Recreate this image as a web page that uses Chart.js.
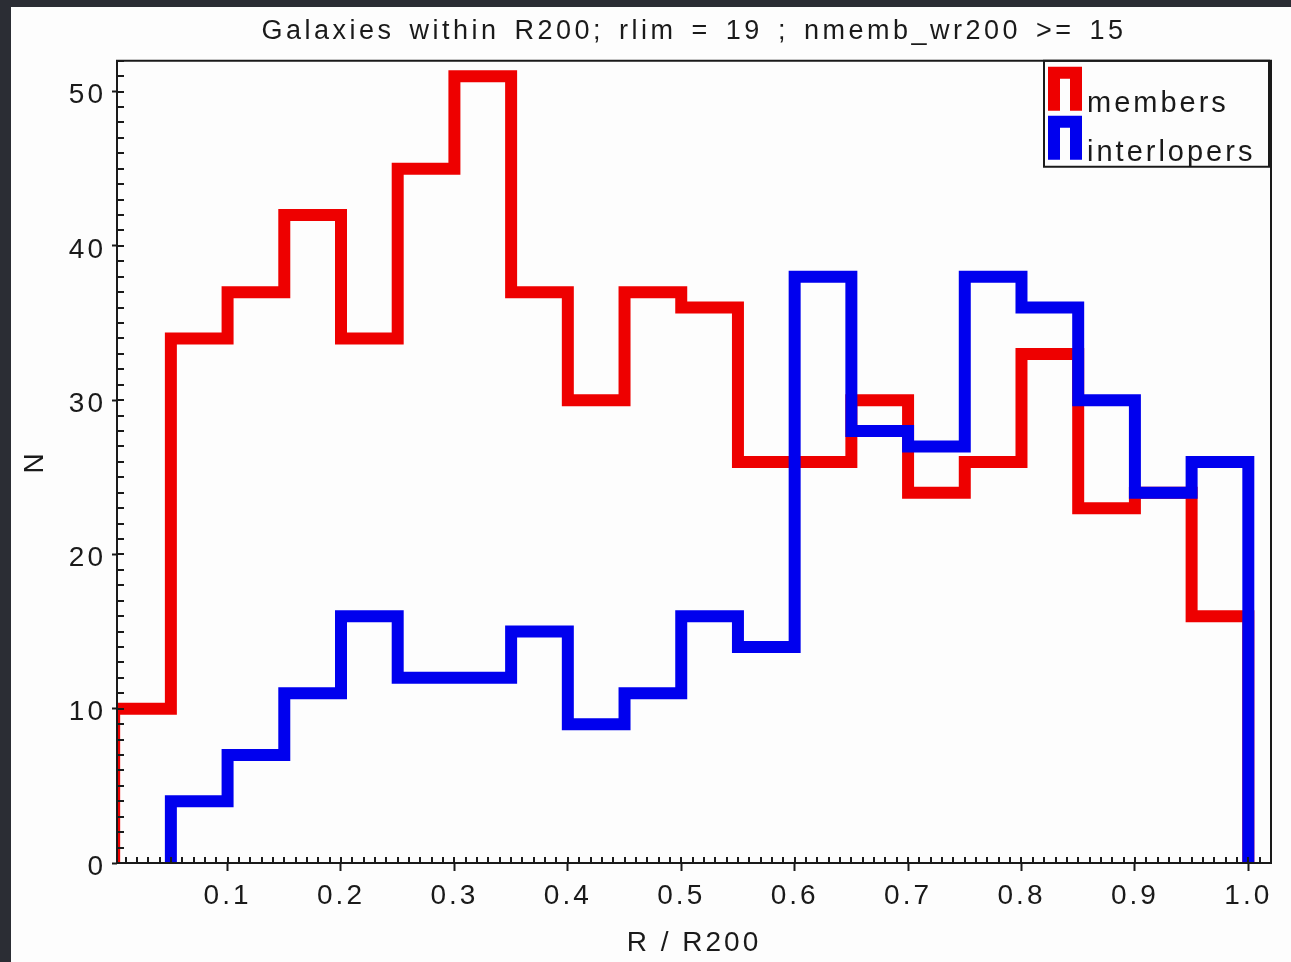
<!DOCTYPE html>
<html>
<head>
<meta charset="utf-8">
<title>Galaxies within R200</title>
<script src="https://cdn.jsdelivr.net/npm/chart.js@4.4.1/dist/chart.umd.min.js"></script>
<style>
  html, body { margin: 0; padding: 0; background: #2b2d34; }
  body { width: 1291px; height: 962px; overflow: hidden; position: relative; }
  #wrap { position: absolute; left: 11px; top: 7px; width: 1280px; height: 955px; background: #fdfdfd; }
  canvas { display: block; }
</style>
</head>
<body>
<div id="wrap"><canvas id="histChart" width="1280" height="955"></canvas></div>
<script>
// histogram bins in R / R200, left edges, width 0.05
const binWidth = 0.05;
const binEdges = [0.00, 0.05, 0.10, 0.15, 0.20, 0.25, 0.30, 0.35, 0.40, 0.45,
                  0.50, 0.55, 0.60, 0.65, 0.70, 0.75, 0.80, 0.85, 0.90, 0.95];
const members     = [10, 34, 37, 42, 34, 45, 51, 37, 30, 37, 36, 26, 26, 30, 24, 26, 33, 23, 24, 16];
const interlopers = [ 0,  4,  7, 11, 16, 12, 12, 15,  9, 11, 16, 14, 38, 28, 27, 38, 36, 30, 24, 26];
const xTicks = [0.1, 0.2, 0.3, 0.4, 0.5, 0.6, 0.7, 0.8, 0.9, 1.0];
const yTicks = [0, 10, 20, 30, 40, 50];

const FONT = "'Liberation Sans', Arial, Helvetica, sans-serif";
const INK = '#1a1a1a';
Chart.defaults.font.family = FONT;
Chart.defaults.font.size = 28;
Chart.defaults.color = INK;

// outline of a histogram as corner points, starting at the first filled bin
function stepOutline(edges, counts) {
  const first = counts.findIndex(c => c > 0);
  const pts = [{ x: edges[first], y: 0 }];
  for (let i = first; i < counts.length; i++) {
    pts.push({ x: edges[i], y: counts[i] });
    pts.push({ x: edges[i] + binWidth, y: counts[i] });
  }
  pts.push({ x: edges[edges.length - 1] + binWidth, y: 0 });
  return pts;
}

// wide, evenly spaced lettering
const spacing = {
  id: 'spacing',
  beforeLayout(chart) { chart.ctx.letterSpacing = '3px'; },
  beforeDraw(chart) { chart.ctx.letterSpacing = '3px'; },
  afterInit(chart) {
    // the title is set a little looser
    const tb = chart.titleBlock;
    const draw = tb.draw.bind(tb);
    tb.draw = (area) => {
      chart.ctx.save();
      chart.ctx.letterSpacing = '3.5px';
      chart.ctx.wordSpacing = '4px';
      draw(area);
      chart.ctx.restore();
    };
  }
};

// box around the plot plus inner minor ticks
const frameTicks = {
  id: 'frameTicks',
  afterDatasetsDraw(chart) {
    const { ctx, chartArea: a, scales: { x, y } } = chart;
    ctx.save();
    ctx.strokeStyle = INK;
    ctx.lineWidth = 2;
    ctx.beginPath();
    for (let i = 1; i / 100 <= x.max; i++) {
      const px = Math.round(x.getPixelForValue(i / 100));
      ctx.moveTo(px, a.bottom);
      ctx.lineTo(px, a.bottom - 6);
    }
    for (let v = 0; v <= y.max; v++) {
      const py = Math.round(y.getPixelForValue(v));
      ctx.moveTo(a.left, py);
      ctx.lineTo(a.left + 7, py);
    }
    ctx.stroke();
    ctx.strokeRect(a.left, a.top, a.right - a.left, a.bottom - a.top);
    ctx.restore();
  }
};

// boxed legend in the top right corner with histogram glyphs
const histLegend = {
  id: 'histLegend',
  afterDraw(chart) {
    const { ctx, chartArea: a } = chart;
    const w = 225, h = 106;
    const bx = a.right - w - 2, by = a.top;
    ctx.save();
    ctx.strokeStyle = INK;
    ctx.lineWidth = 2;
    ctx.strokeRect(bx, by, w, h);
    ctx.font = '29px ' + FONT;
    ctx.textBaseline = 'alphabetic';
    ctx.textAlign = 'left';
    chart.data.datasets.forEach((ds, i) => {
      const gx = bx + 4, gy = by + 6 + i * 49;
      ctx.strokeStyle = ds.borderColor;
      ctx.lineWidth = 12;
      ctx.lineJoin = 'miter';
      ctx.lineCap = 'butt';
      ctx.beginPath();
      ctx.moveTo(gx + 6, gy + 44);
      ctx.lineTo(gx + 6, gy + 6);
      ctx.lineTo(gx + 28, gy + 6);
      ctx.lineTo(gx + 28, gy + 44);
      ctx.stroke();
      ctx.fillStyle = INK;
      ctx.fillText(ds.label, gx + 39, gy + 45);
    });
    ctx.restore();
  }
};

new Chart(document.getElementById('histChart'), {
  type: 'line',
  data: {
    datasets: [
      {
        label: 'members',
        data: stepOutline(binEdges, members),
        borderColor: '#ee0000',
        borderWidth: 12,
        borderJoinStyle: 'miter',
        borderCapStyle: 'butt',
        pointRadius: 0,
        tension: 0,
        fill: false,
        clip: 0,
        order: 1
      },
      {
        label: 'interlopers',
        data: stepOutline(binEdges, interlopers),
        borderColor: '#0000ee',
        borderWidth: 12,
        borderJoinStyle: 'miter',
        borderCapStyle: 'butt',
        pointRadius: 0,
        tension: 0,
        fill: false,
        clip: 0,
        order: 0
      }
    ]
  },
  options: {
    responsive: false,
    animation: false,
    devicePixelRatio: 1,
    layout: { padding: { top: 0, right: 20, bottom: 0, left: 0 } },
    plugins: {
      legend: { display: false },
      tooltip: { enabled: false },
      title: {
        display: true,
        fullSize: false,
        text: 'Galaxies within R200; rlim = 19 ; nmemb_wr200 >= 15',
        color: INK,
        font: { size: 27, weight: 'normal', lineHeight: 1.25 },
        padding: { top: 8, bottom: 12 }
      }
    },
    scales: {
      x: {
        type: 'linear',
        min: 0.0025,
        max: 1.02,
        afterBuildTicks: s => { s.ticks = xTicks.map(v => ({ value: v })); },
        afterFit: s => { s.height = 99; },
        ticks: { padding: 8, maxRotation: 0, callback: v => v.toFixed(1) },
        grid: { display: true, drawOnChartArea: false, drawTicks: true, tickLength: 8, tickWidth: 2, tickColor: INK },
        border: { display: false },
        title: { display: true, text: 'R / R200', font: { size: 28, lineHeight: 1.2 }, padding: { top: 0, bottom: 2 } }
      },
      y: {
        min: 0,
        max: 52,
        afterBuildTicks: s => { s.ticks = yTicks.map(v => ({ value: v })); },
        afterFit: s => { s.width = 106; },
        ticks: { padding: 6, labelOffset: 4, callback: v => String(v) },
        grid: { display: true, drawOnChartArea: false, drawTicks: true, tickLength: 5, tickWidth: 2, tickColor: INK },
        border: { display: false },
        title: { display: true, text: 'N', font: { size: 28, lineHeight: 1.2 }, padding: { top: 7, bottom: 0 } }
      }
    }
  },
  plugins: [spacing, frameTicks, histLegend]
});
</script>
</body>
</html>
